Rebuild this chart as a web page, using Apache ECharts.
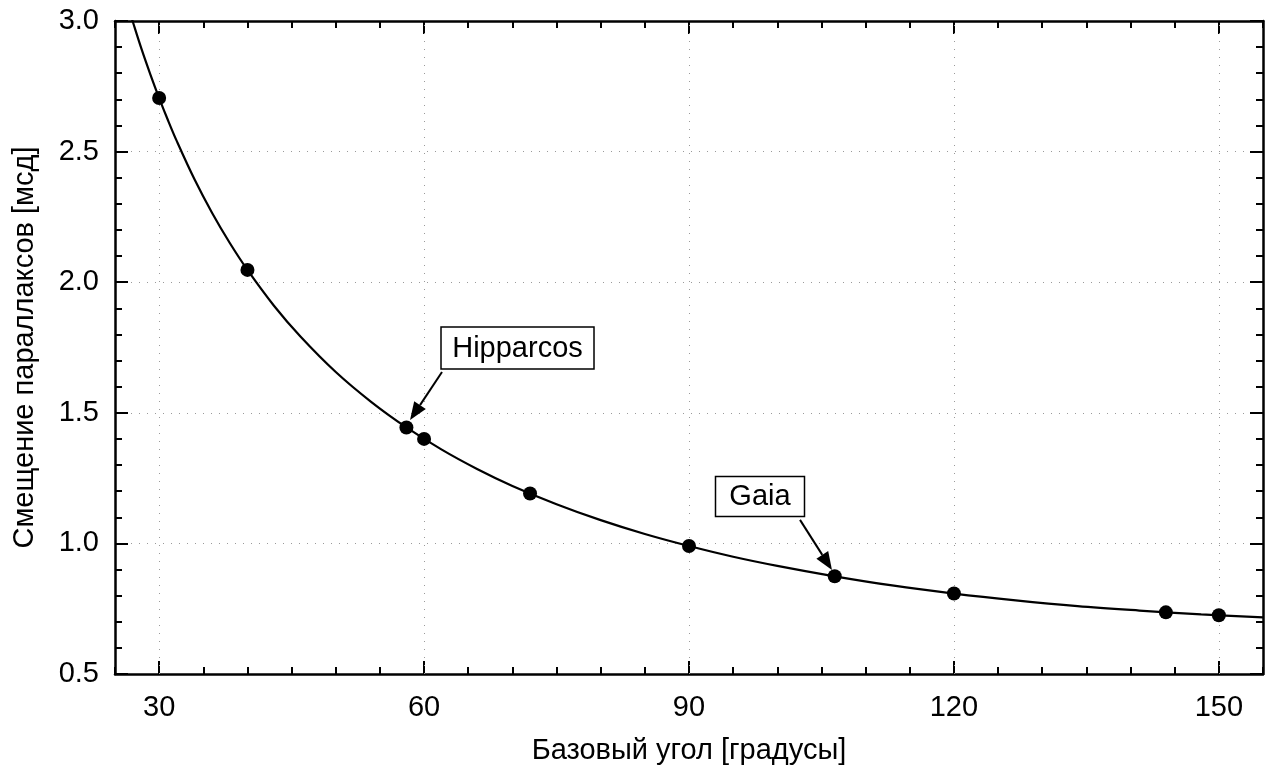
<!DOCTYPE html>
<html><head><meta charset="utf-8">
<script src="https://cdn.jsdelivr.net/npm/echarts@6/dist/echarts.min.js"></script>
<style>html,body{margin:0;padding:0;background:#fff}#c{width:1271px;height:776px}</style>
</head><body><div id="c"></div>
<script>
// ---- data ----
const curveX = [26.5, 27, 28, 29, 30, 31, 32, 34, 36, 38, 40, 43, 46, 50, 54, 58, 62, 66, 70, 75, 80, 85, 90, 95, 100, 106.5, 113, 120, 127, 134, 141, 148, 155];
const curveY = [3.054, 2.999, 2.893, 2.796, 2.705, 2.620, 2.540, 2.394, 2.265, 2.150, 2.047, 1.910, 1.792, 1.656, 1.542, 1.444, 1.359, 1.285, 1.220, 1.150, 1.089, 1.036, 0.990, 0.949, 0.914, 0.874, 0.839, 0.808, 0.782, 0.760, 0.743, 0.728, 0.717];
const pointX = [30, 40, 58, 60, 72, 90, 106.5, 120, 144, 150];
const pointY = [2.705, 2.047, 1.444, 1.400, 1.191, 0.990, 0.874, 0.808, 0.736, 0.725];
const xTickLabels = [30, 60, 90, 120, 150];
const yTickLabels = ['0.5', '1.0', '1.5', '2.0', '2.5', '3.0'];
const annText = ['Hipparcos', 'Gaia'];
const annBoxAt = [[70.58, 1.748], [98.04, 1.180]];
const annArrowFrom = [[62.03, 1.656], [102.57, 1.090]];
const annArrowTo = [[58.41, 1.472], [106.19, 0.898]];
const xTitle = 'Базовый угол [градусы]';
const yTitle = 'Смещение параллаксов [мсд]';

const FONT = "'Liberation Sans', Arial, sans-serif";
const FS = 29;
const chart = echarts.init(document.getElementById('c'), null, {renderer: 'canvas'});

function xMinor(pos) {
  return {type: 'value', position: pos, min: 25, max: 155, interval: 5,
    axisLine: {show: true, onZero: false, lineStyle: {color: '#000', width: 2.5}},
    axisTick: {show: true, inside: true, length: 7, lineStyle: {color: '#000', width: 2}},
    axisLabel: {show: false}, splitLine: {show: false}};
}
function xMajor(pos, labels) {
  const a = {type: 'value', position: pos, min: 25, max: 155,
    axisLine: {show: false, onZero: false},
    axisTick: {show: true, inside: true, length: 13, customValues: xTickLabels, lineStyle: {color: '#000', width: 2}},
    axisLabel: {show: labels, customValues: xTickLabels, fontSize: FS, fontFamily: FONT, color: '#000', margin: 19},
    splitLine: {show: false}};
  if (labels) {
    a.name = xTitle; a.nameLocation = 'middle'; a.nameGap = 62;
    a.nameTextStyle = {fontSize: FS, fontFamily: FONT, color: '#000'};
  }
  return a;
}
function yAx(pos, labels) {
  const a = {type: 'value', position: pos, min: 0.5, max: 3.0, interval: 0.5,
    axisLine: {show: true, onZero: false, lineStyle: {color: '#000', width: 2.5}},
    axisTick: {show: true, inside: true, length: 13, lineStyle: {color: '#000', width: 2}},
    minorTick: {show: true, splitNumber: 5, length: 7, lineStyle: {color: '#000', width: 2}},
    axisLabel: {show: labels, fontSize: FS, fontFamily: FONT, color: '#000', margin: 16,
      formatter: v => yTickLabels[Math.round((v - 0.5) / 0.5)]},
    splitLine: {show: labels, lineStyle: {color: '#9a9a9a', width: 1, type: [1, 7]}}};
  if (labels) {
    a.name = yTitle; a.nameLocation = 'middle'; a.nameGap = 76;
    a.nameTextStyle = {fontSize: FS, fontFamily: FONT, color: '#000'};
  }
  return a;
}

const option = {
  backgroundColor: '#fff',
  animation: false,
  grid: {left: 115, right: 8, top: 21, bottom: 102, containLabel: false, outerBoundsMode: 'none'},
  xAxis: [xMinor('bottom'), xMajor('bottom', true), xMinor('top'), xMajor('top', false)],
  yAxis: [yAx('left', true), yAx('right', false)],
  series: [
    {type: 'line', xAxisIndex: 0, yAxisIndex: 0, data: curveX.map((x, i) => [x, curveY[i]]),
      smooth: 0.35, showSymbol: false, clip: true, lineStyle: {color: '#000', width: 2.2}, z: 3,
      markLine: {silent: true, symbol: 'none', label: {show: false},
        lineStyle: {color: '#9a9a9a', width: 1, type: [1, 7]},
        data: xTickLabels.map(v => ({xAxis: v}))}},
    {type: 'scatter', xAxisIndex: 0, yAxisIndex: 0, data: pointX.map((x, i) => [x, pointY[i]]),
      symbol: 'circle', symbolSize: 14, itemStyle: {color: '#000', opacity: 1}, z: 5}
  ]
};
chart.setOption(option);

// annotations (boxes + arrows) placed in data coordinates
const g = [];
const boxW = [153, 89], boxH = [42, 40];
annText.forEach((t, i) => {
  const c = chart.convertToPixel({xAxisIndex: 0, yAxisIndex: 0}, annBoxAt[i]);
  const p0 = chart.convertToPixel({xAxisIndex: 0, yAxisIndex: 0}, annArrowFrom[i]);
  const p1 = chart.convertToPixel({xAxisIndex: 0, yAxisIndex: 0}, annArrowTo[i]);
  g.push({type: 'rect', z: 10, shape: {x: c[0] - boxW[i] / 2, y: c[1] - boxH[i] / 2, width: boxW[i], height: boxH[i]},
    style: {fill: '#fff', stroke: '#000', lineWidth: 1.5}});
  g.push({type: 'text', z: 11, x: c[0], y: c[1] + 1,
    style: {text: t, fontSize: FS, fontFamily: FONT, fill: '#000', align: 'center', verticalAlign: 'middle'}});
  const dx = p1[0] - p0[0], dy = p1[1] - p0[1], L = Math.hypot(dx, dy);
  const ux = dx / L, uy = dy / L, hl = 18, hw = 7;
  const bx = p1[0] - ux * hl, by = p1[1] - uy * hl;
  g.push({type: 'line', z: 10, shape: {x1: p0[0], y1: p0[1], x2: bx, y2: by}, style: {stroke: '#000', lineWidth: 2}});
  g.push({type: 'polygon', z: 10, shape: {points: [[p1[0], p1[1]], [bx - uy * hw, by + ux * hw], [bx + uy * hw, by - ux * hw]]},
    style: {fill: '#000'}});
});
chart.setOption({graphic: g});
</script>
</body></html>
